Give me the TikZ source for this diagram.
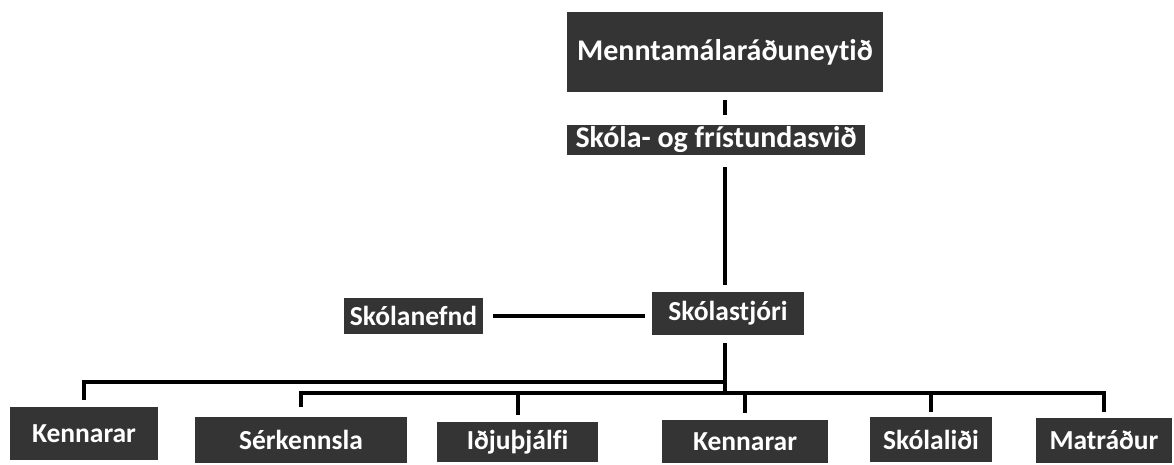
\documentclass[tikz,border=0pt]{standalone}
\usepackage{fontspec}
\setmainfont{Carlito}[Ligatures=NoCommon]
\definecolor{boxgray}{RGB}{52,52,52}
\tikzset{
  box/.style={fill=boxgray, text=white, inner sep=0pt, align=center, font=\bfseries\fontsize{27.5}{30}\selectfont},
  bigbox/.style={box, font=\bfseries\fontsize{30}{32}\selectfont},
  conn/.style={draw=black, line width=4pt, line join=miter}
}
\begin{document}
\begin{tikzpicture}[x=1pt,y=-1pt]
\useasboundingbox[fill=white] (0,0) rectangle (1174,465);
% top
\node[bigbox, minimum width=316, minimum height=80] (M) at (725,52) {Menntamálaráðuneytið};
\node[bigbox, minimum width=298, minimum height=30] (S) at (716,140) {Skóla- og frístundasvið};
\node[box, minimum width=152, minimum height=43] (Sj) at (728,313.5) {Skólastjóri};
\node[box, minimum width=139, minimum height=36] (Sn) at (413.5,316) {Skólanefnd};
% bottom row
\node[box, minimum width=148, minimum height=53] (K1) at (84,433.5) {Kennarar};
\node[box, minimum width=212, minimum height=46] (Se) at (301,440) {Sérkennsla};
\node[box, minimum width=161, minimum height=40] (Io) at (517.5,442) {Iðjuþjálfi};
\node[box, minimum width=166, minimum height=43] (K2) at (745,441.5) {Kennarar};
\node[box, minimum width=122, minimum height=45] (Sl) at (931,439.5) {Skólaliði};
\node[box, minimum width=136, minimum height=45] (Ma) at (1104,440.5) {Matráður};
% junction coordinates
\coordinate (t) at (725,382);
\coordinate (j) at (725,393);
% connectors
\draw[conn, shorten <=8pt, shorten >=10pt] (M.south) -- (M.south |- S.north);
\draw[conn, shorten <=12pt, shorten >=7pt] (M.south |- S.south) -- (M.south |- Sj.north);
\draw[conn, shorten <=10pt, shorten >=7pt] (Sn.east) -- (Sn.east -| Sj.west);
\draw[conn] ([yshift=-8pt]M.south |- Sj.south) -- (j);
\draw[conn] (t) -| ([yshift=7pt]K1.north);
\draw[conn] ([yshift=10pt]Se.north) |- (j) -| ([yshift=6pt]Ma.north);
\draw[conn] (Io.north |- j) -- ([yshift=7pt]Io.north);
\draw[conn] (K2.north |- j) -- ([yshift=7pt]K2.north);
\draw[conn] (Sl.north |- j) -- ([yshift=5pt]Sl.north);
\end{tikzpicture}
\end{document}
